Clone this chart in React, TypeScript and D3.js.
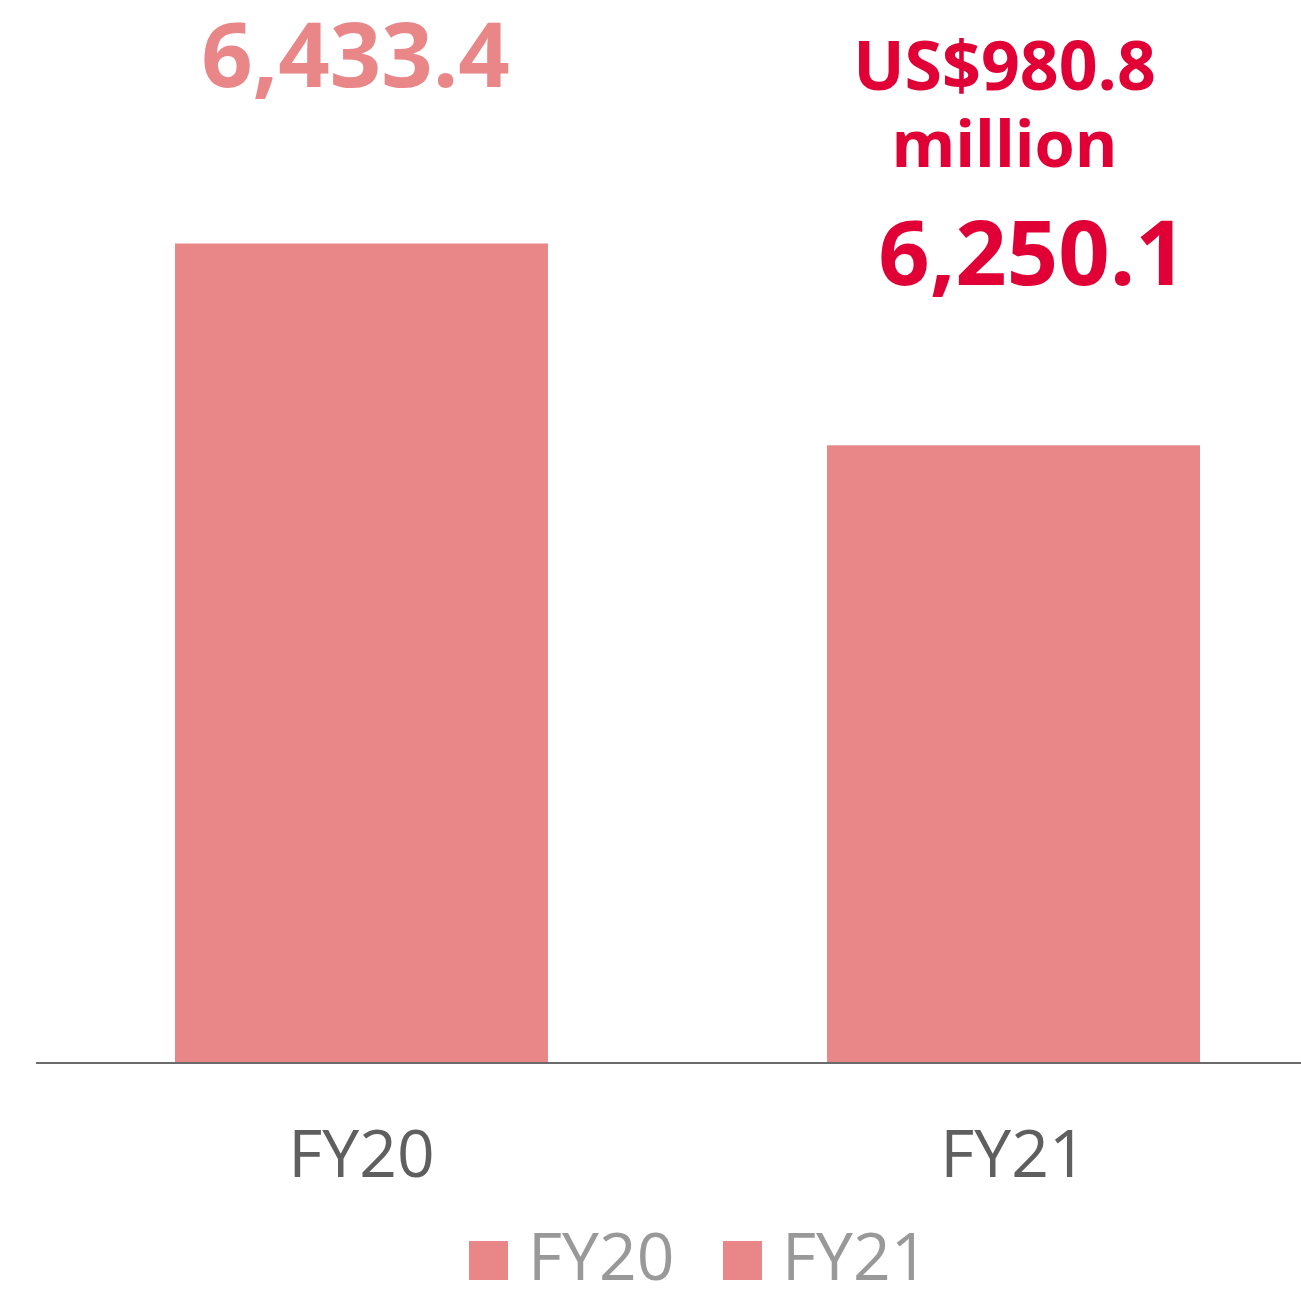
import React, { useEffect } from "react";
import * as d3 from "d3";

const categories = ["FY20", "FY21"];
const values = [6433.4, 6250.1];
const valueLabels = ["6,433.4", "6,250.1"];
const annotationLines = ["US$980.8", "million"];
const legendLabels = ["FY20", "FY21"];

const W = 1301;
const H = 1293;
const FONT = "'Open Sans', 'Noto Sans', sans-serif";
const BAR = "#E98688";
const RED = "#E00035";

export default function App() {
  useEffect(() => {
    document.body.style.margin = "0";
  }, []);

  const x = d3.scaleBand<string>().domain(categories).range([175, 1200]).paddingInner(0.428).paddingOuter(0);
  const y = d3.scaleLinear().domain([5690, 6650]).range([1062, 5]);
  const baseY = y(5690);

  return (
    <svg width={W} height={H} style={{ display: "block" }} fontFamily={FONT}>
      {categories.map((c, i) => (
        <rect key={c} x={x(c)} y={y(values[i])} width={x.bandwidth()} height={baseY - y(values[i])} fill={BAR} />
      ))}
      <line x1={36} x2={W} y1={baseY + 1} y2={baseY + 1} stroke="#6b6b6b" strokeWidth={2} />
      {categories.map((c) => (
        <text key={c} x={(x(c) as number) + x.bandwidth() / 2} y={baseY + 115} textAnchor="middle" fontSize={66} fill="#5f5f5f">
          {c}
        </text>
      ))}
      <text x={(x("FY20") as number) + x.bandwidth() / 2 - 6} y={87} textAnchor="middle" fontSize={90} fontWeight={700} fill={BAR}>
        {valueLabels[0]}
      </text>
      <text x={(x("FY21") as number) + x.bandwidth() / 2 + 19} y={285} textAnchor="middle" fontSize={90} fontWeight={700} fill={RED}>
        {valueLabels[1]}
      </text>
      {annotationLines.map((t, i) => (
        <text key={t} x={(x("FY21") as number) + x.bandwidth() / 2 - 9} y={90 + i * 77} textAnchor="middle" fontSize={i === 0 ? 68 : 65} fontWeight={700} fill={RED}>
          {t}
        </text>
      ))}
      {legendLabels.map((t, i) => (
        <g key={t} transform={`translate(${469 + i * 254},0)`}>
          <rect x={0} y={1241} width={39} height={39} fill={BAR} />
          <text x={59} y={1280} fontSize={66} fill="#999999">
            {t}
          </text>
        </g>
      ))}
    </svg>
  );
}
